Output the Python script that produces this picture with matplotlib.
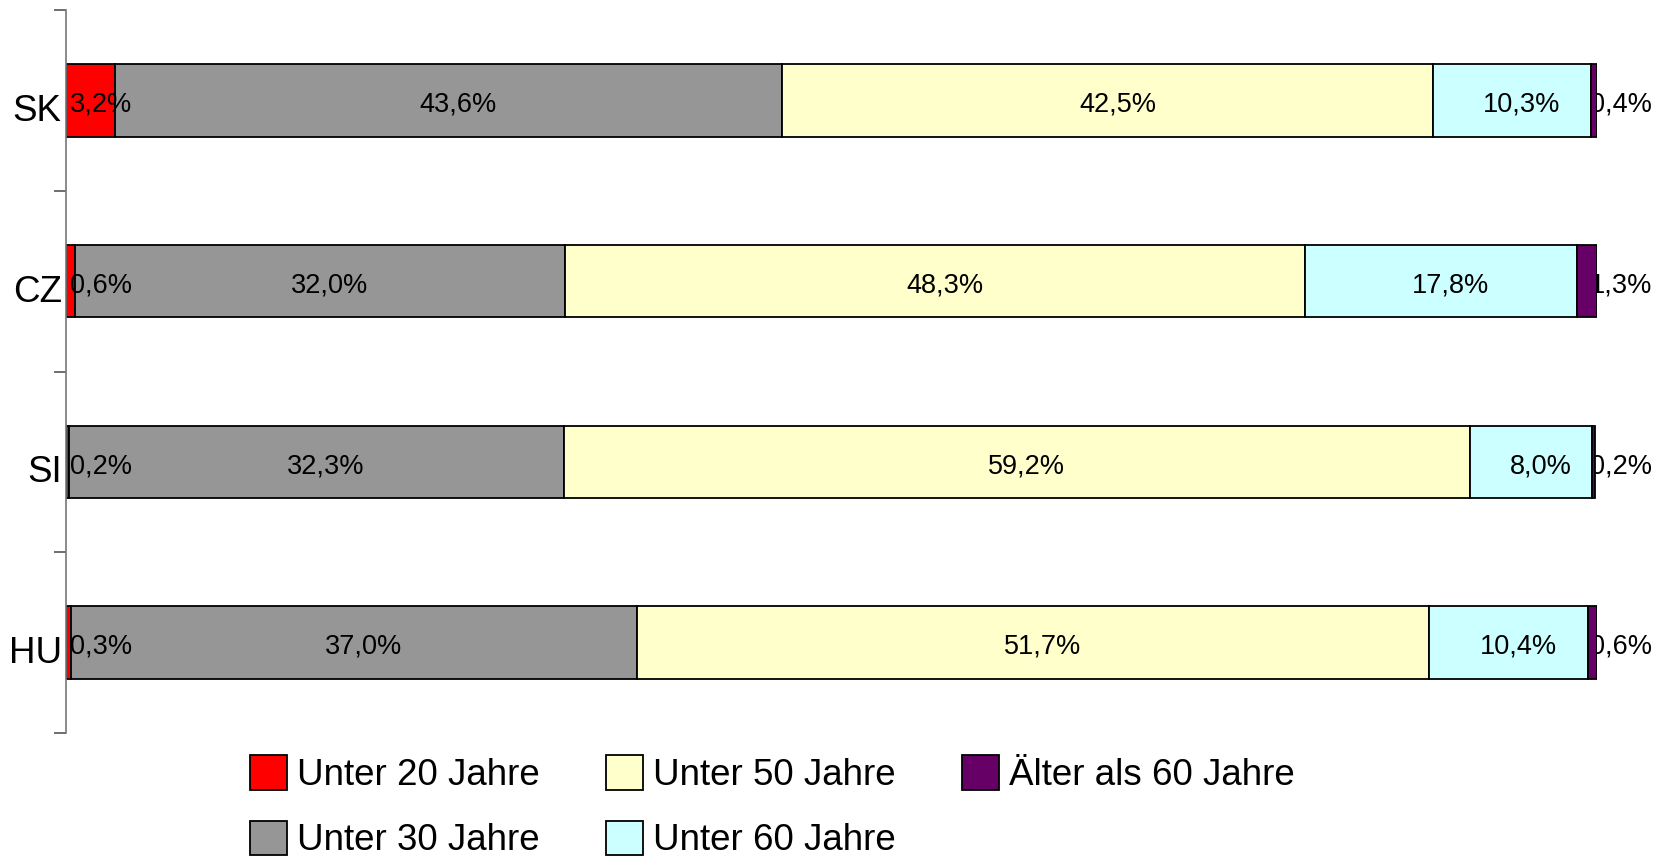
import numpy as np
import matplotlib.pyplot as plt
import matplotlib.transforms as mtransforms

plt.rcParams['font.family'] = ['Liberation Sans', 'DejaVu Sans']

countries = ["SK", "CZ", "SI", "HU"]
groups = ["Unter 20 Jahre", "Unter 30 Jahre", "Unter 50 Jahre", "Unter 60 Jahre", "Älter als 60 Jahre"]
colors = ["#FF0000", "#969696", "#FFFFCC", "#CCFFFF", "#660066"]

unter20 = [3.2, 0.6, 0.2, 0.3]
unter30 = [43.6, 32.0, 32.3, 37.0]
unter50 = [42.5, 48.3, 59.2, 51.7]
unter60 = [10.3, 17.8, 8.0, 10.4]
aelter60 = [0.4, 1.3, 0.2, 0.6]

series = [unter20, unter30, unter50, unter60, aelter60]

fig = plt.figure(figsize=(16.7, 8.57), dpi=100)
ax = fig.add_axes([0.0395, 0.1447, 0.9168, 0.8436])

y = np.arange(len(countries))[::-1]  # SK on top
left = np.zeros(len(countries))
handles = []
for k, (vals, col, name) in enumerate(zip(series, colors, groups)):
    vals = np.array(vals)
    h = ax.barh(y, vals, left=left, height=0.4, color=col, edgecolor="black",
                linewidth=1.3, label=name, zorder=2)
    handles.append(h)
    for yi, l, v in zip(y, left, vals):
        txt = f"{v:.1f}%".replace(".", ",")
        if k == 0:
            ax.annotate(txt, (0, yi), xytext=(3, -3), textcoords="offset points",
                        ha="left", va="center", fontsize=19.5, zorder=3)
        elif k == len(series) - 1:
            ax.annotate(txt, (100, yi), xytext=(-5, -3), textcoords="offset points",
                        ha="left", va="center", fontsize=19.5, zorder=1,
                        annotation_clip=False)
        else:
            ax.annotate(txt, (l + v / 2, yi), xytext=(7, -3), textcoords="offset points",
                        ha="center", va="center", fontsize=19.5, zorder=3)
    left = left + vals

ax.set_xlim(0, 100)
ax.set_ylim(-0.5, 3.5)
ax.set_yticks(y)
ax.set_yticklabels(countries, fontsize=26.5)
ax.set_yticks(np.arange(-0.5, 4.0, 1.0), minor=True)
ax.tick_params(axis="y", which="major", length=0, pad=3)
ax.tick_params(axis="y", which="minor", length=9, width=1.2, color="#555555")
shift = mtransforms.ScaledTranslation(0, -5 / 72, fig.dpi_scale_trans)
for lab in ax.get_yticklabels():
    lab.set_transform(lab.get_transform() + shift)
ax.set_xticks([])
for s in ["top", "right", "bottom"]:
    ax.spines[s].set_visible(False)
ax.spines["left"].set_color("#777777")
ax.spines["left"].set_linewidth(1.2)

leg = fig.legend(handles=handles, labels=groups, ncol=3, loc="center",
                 bbox_to_anchor=(0.4625, 0.0585), frameon=False, fontsize=26.5,
                 handlelength=1.0, handleheight=1.05, handletextpad=0.28,
                 columnspacing=1.8, labelspacing=0.75, borderpad=0)
for p in leg.get_patches():
    p.set_linewidth(1.3)

fig.savefig("out.png", dpi=100)
